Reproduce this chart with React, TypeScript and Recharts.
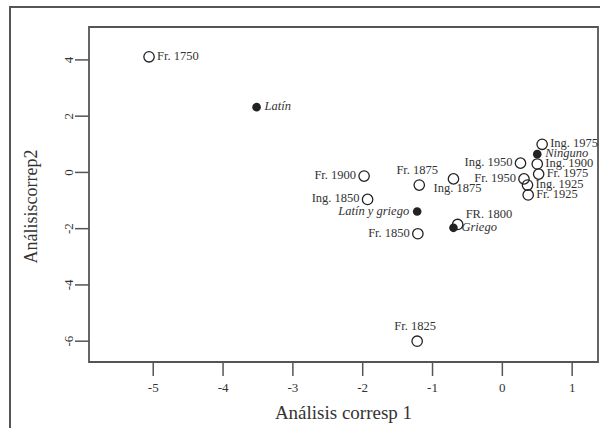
import React from "react";
import {
  ScatterChart, Scatter, XAxis, YAxis, ReferenceArea,
} from "recharts";

const SERIF = "Liberation Serif";
const INK   = "#222";
const TEXT  = "#333";
const FRAME = "#555";

/* ─── Data ─────────────────────────────────────────── */
const NAMES = [
  "Fr. 1750", "Latín", "Fr. 1900", "Ing. 1850", "Fr. 1875", "Latín y griego",
  "Fr. 1850", "Ing. 1875", "FR. 1800", "Griego", "Fr. 1825", "Ing. 1975",
  "Ninguno", "Ing. 1950", "Ing. 1900", "Fr. 1950", "Fr. 1975", "Ing. 1925", "Fr. 1925",
];
const DIM1 = [
  -5.06, -3.52, -1.98, -1.93, -1.19, -1.22,
  -1.21, -0.70, -0.64, -0.70, -1.22, 0.57,
  0.50, 0.26, 0.50, 0.31, 0.52, 0.36, 0.37,
];
const DIM2 = [
  4.11, 2.32, -0.13, -0.96, -0.45, -1.39,
  -2.18, -0.23, -1.85, -1.97, -6.0, 1.0,
  0.65, 0.33, 0.30, -0.23, -0.06, -0.45, -0.80,
];
// true = language (filled dot, italic label)
const IS_LANG = [
  false, true, false, false, false, true,
  false, false, false, true, false, false,
  true, false, false, false, false, false, false,
];
const X_TICKS = [-5, -4, -3, -2, -1, 0, 1];
const Y_TICKS = [4, 2, 0, -2, -4, -6];
const X_DOMAIN = [-5.92, 1.37];
const Y_DOMAIN = [-6.74, 5.17];

// where each label sits relative to its point
const LABEL_SIDE: Record<string, string> = {
  "Fr. 1900": "left", "Ing. 1850": "left", "Latín y griego": "left", "Fr. 1850": "left",
  "Ing. 1950": "left", "Fr. 1950": "left",
  "Fr. 1875": "top", "Fr. 1825": "top",
  "Ing. 1875": "below", "FR. 1800": "topright",
};

const points = NAMES.map((name, i) => ({
  name, x: DIM1[i], y: DIM2[i], lang: IS_LANG[i],
}));

/* ─── Point + label ────────────────────────────────── */
function PointMark(props: any) {
  const { cx, cy, payload } = props;
  const side = LABEL_SIDE[payload.name] || "right";
  let tx = cx + 8, ty = cy + 3, anchor: any = "start";
  if (side === "left") { tx = cx - 8; anchor = "end"; }
  if (side === "top") { tx = cx - 2; ty = cy - 11; anchor = "middle"; }
  if (side === "below") { tx = cx + 4; ty = cy + 13; anchor = "middle"; }
  if (side === "topright") { tx = cx + 8; ty = cy - 6; anchor = "start"; }
  return (
    <g>
      {payload.lang
        ? <circle cx={cx} cy={cy} r={4.3} fill={INK} />
        : <circle cx={cx} cy={cy} r={5.2} fill="none" stroke={INK} strokeWidth={1.3} />}
      <text x={tx} y={ty} textAnchor={anchor} fill={TEXT}
            style={{ fontFamily: SERIF, fontSize: 12.5, fontStyle: payload.lang ? "italic" : "normal" }}>
        {payload.name}
      </text>
    </g>
  );
}

function YTick({ x, y, payload }: any) {
  return (
    <text x={x} y={y} transform={`rotate(-90, ${x}, ${y})`} textAnchor="middle" fill={TEXT}
          style={{ fontFamily: SERIF, fontSize: 13 }}>
      {payload.value}
    </text>
  );
}

function YTitle({ viewBox }: any) {
  const cy = viewBox.y + viewBox.height / 2 + 12;
  return (
    <text x={37} y={cy} transform={`rotate(-90, 37, ${cy})`} textAnchor="middle" fill={TEXT}
          style={{ fontFamily: SERIF, fontSize: 18 }}>
      Análisiscorrep2
    </text>
  );
}

export default function App() {
  return (
    <div style={{ position: "absolute", left: 0, top: 0, width: 600, height: 428, background: "#fff",
                  overflow: "hidden", fontFamily: SERIF }}>
      <div style={{
        position: "absolute", left: 9, top: 6, width: 620, height: 440,
        borderLeft: `2px solid ${FRAME}`, borderTop: `2px solid ${FRAME}`,
      }} />
      <div style={{ position: "absolute", left: 0, top: 0 }}>
        <ScatterChart width={600} height={428} margin={{ top: 27, right: 2, left: 10, bottom: 0 }}
                      style={{ fontFamily: SERIF }}>
          <XAxis
            type="number" dataKey="x" domain={X_DOMAIN} ticks={X_TICKS} allowDataOverflow
            height={66} axisLine={false} tickSize={14} tickMargin={7}
            tickLine={{ stroke: FRAME, strokeWidth: 1.5 }}
            tick={{ fontSize: 13, fill: TEXT, style: { fontFamily: SERIF } }}
            label={{ value: "Análisis corresp 1", position: "insideBottom", offset: 9,
                     style: { fontFamily: SERIF, fontSize: 19, fill: TEXT } }}
          />
          <YAxis
            type="number" dataKey="y" domain={Y_DOMAIN} ticks={Y_TICKS} allowDataOverflow
            width={79} axisLine={false} tickSize={14} tickMargin={2}
            tickLine={{ stroke: FRAME, strokeWidth: 1.5 }}
            tick={<YTick />}
            label={<YTitle />}
          />
          <ReferenceArea
            x1={X_DOMAIN[0]} x2={X_DOMAIN[1]} y1={Y_DOMAIN[0]} y2={Y_DOMAIN[1]}
            fill="none" stroke={FRAME} strokeWidth={1.8} fillOpacity={0} ifOverflow="visible"
          />
          <Scatter data={points} shape={<PointMark />} isAnimationActive={false} />
        </ScatterChart>
      </div>
    </div>
  );
}
